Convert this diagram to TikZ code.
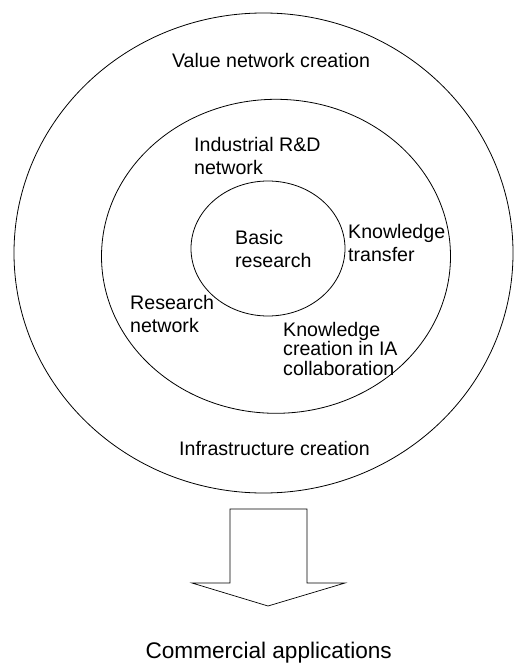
\documentclass[tikz,border=0pt]{standalone}
\usepackage{fontspec}
\setmainfont{Liberation Sans}

\newlength{\du}
\setlength{\du}{1pt}

\tikzset{
  ring/.style={draw=black, line width=0.8pt},
  lbl/.style={inner sep=0pt, font=\fontsize{19.6}{23}\selectfont},
  lbltxt/.style={lbl, anchor=north west, align=left},
}

\begin{document}
\begin{tikzpicture}
\pgftransformxscale{1.000000}
\pgftransformyscale{-1.000000}
\useasboundingbox (0\du,0\du) rectangle (514\du,663\du);

% the three rings
\draw[ring] (263.5\du,253\du) ellipse [x radius=249.5\du, y radius=240\du];
\draw[ring] (276\du,256.3\du) ellipse [x radius=174.5\du, y radius=157\du];
\draw[ring] (268\du,248.5\du) ellipse [x radius=77\du, y radius=67.5\du];

\node[lbl, anchor=base] (value) at (271\du,68\du) {Value network creation};
\node[lbltxt] (industrial) at (194\du,137\du) {Industrial R\&D\\network};
\node[lbltxt] (basic) at (235\du,230\du) {Basic\\research};
\node[lbltxt] (transfer) at (348\du,224\du) {Knowledge\\transfer};
\node[lbltxt] (resnet) at (130\du,295\du) {Research\\network};
\node[lbltxt, font=\fontsize{19.6}{19.3}\selectfont] (kcreation) at (283\du,322\du)
  {Knowledge\\creation in IA\\collaboration};
\node[lbl, anchor=base] (infra) at (274.5\du,455\du) {Infrastructure creation};

% block arrow down to the applications
\draw[line width=0.7pt, line join=miter] (230\du,509\du)--(307\du,509\du)--(307\du,583\du)--(345\du,583\du)
  --(268\du,606\du)--(192\du,583\du)--(230\du,583\du)--cycle;
\node[lbl, anchor=base, font=\fontsize{22.6}{26}\selectfont] (commercial) at (268.7\du,658\du) {Commercial applications};
\end{tikzpicture}
\end{document}
